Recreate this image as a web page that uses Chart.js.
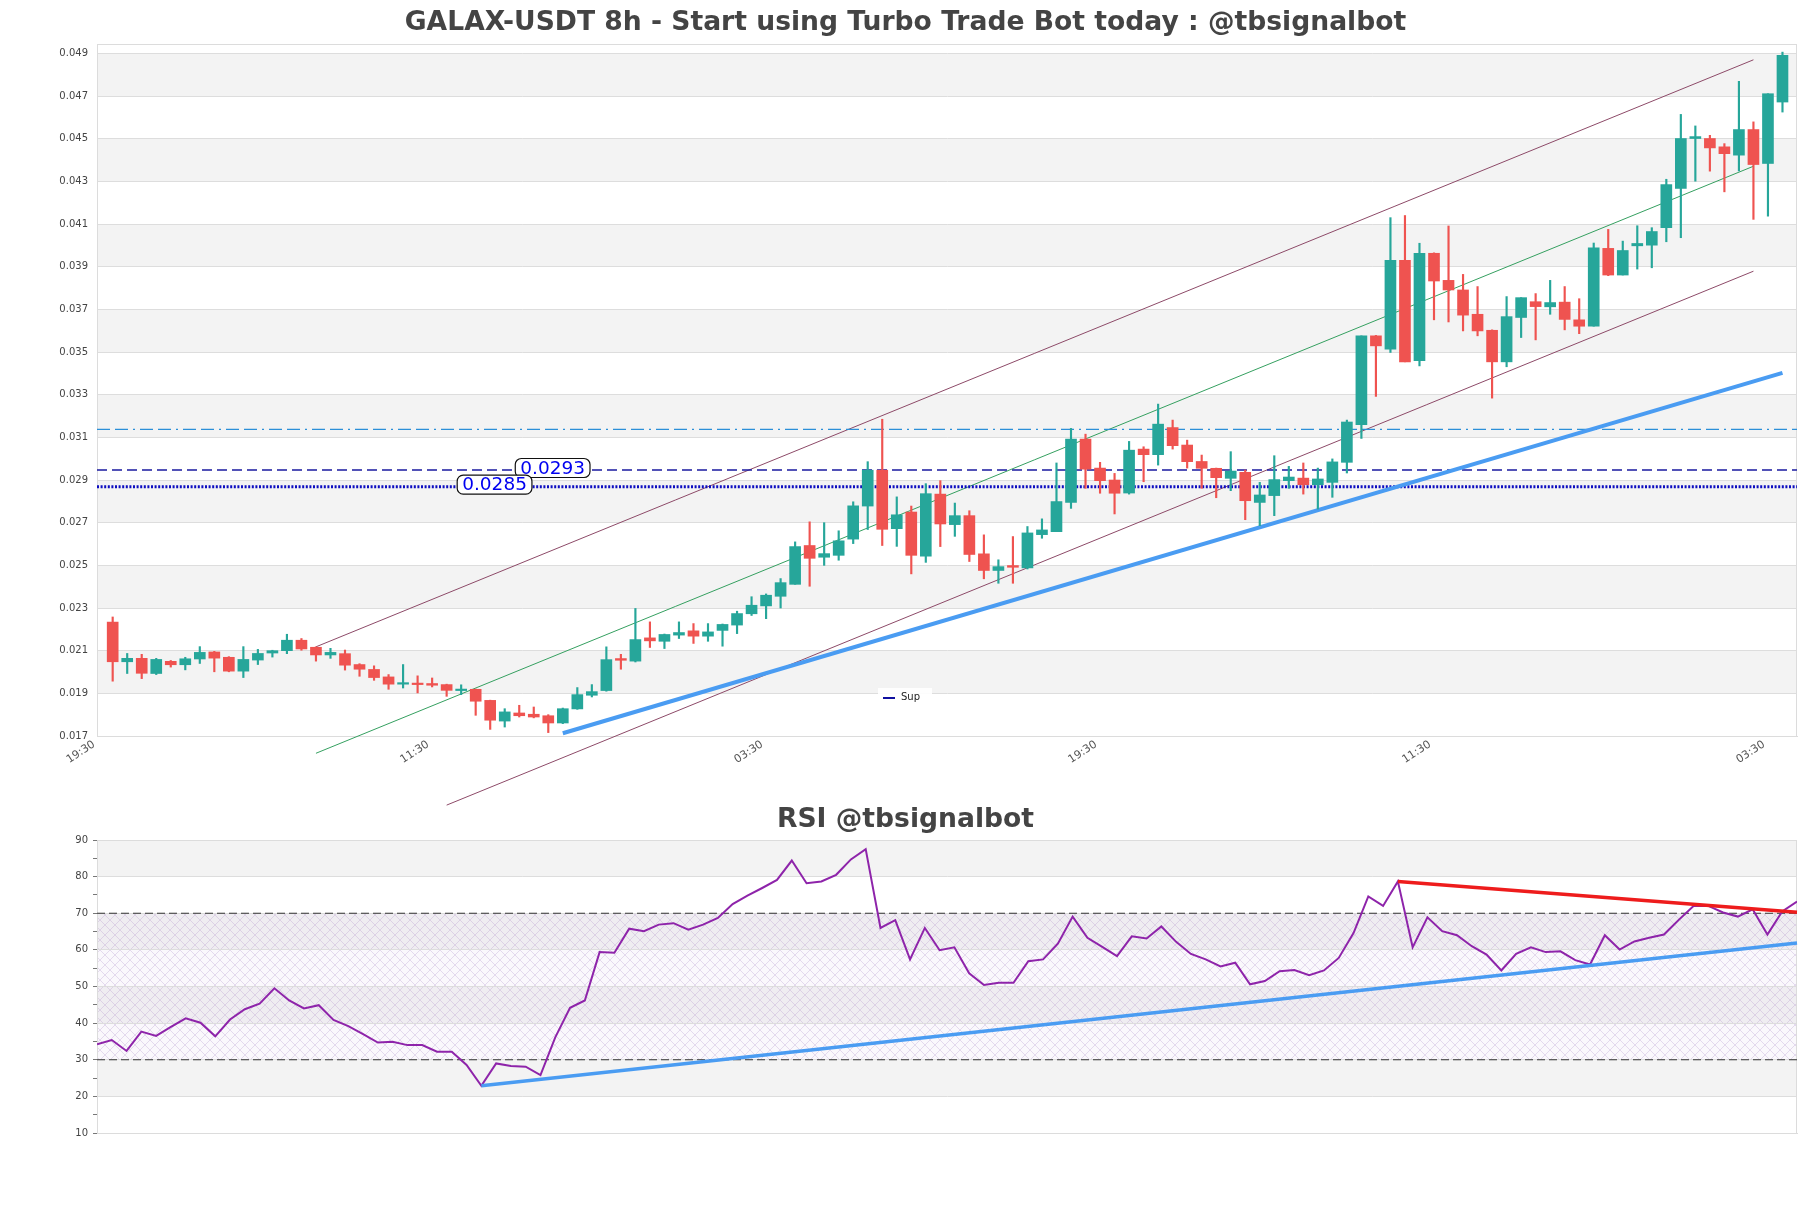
<!DOCTYPE html>
<html>
<head>
<meta charset="utf-8">
<script src="https://cdn.jsdelivr.net/npm/chart.js@4.4.1/dist/chart.umd.min.js"></script>
<style>
  html, body { margin: 0; padding: 0; background: #fff; }
  #wrap { position: relative; width: 1811px; height: 1208px; overflow: hidden; }
  #rsiChart { position: absolute; left: 0; top: 790px; }
  #mainChart { position: absolute; left: 0; top: 0; }
</style>
</head>
<body>
<div id="wrap">
  <canvas id="rsiChart" width="1811" height="418"></canvas>
  <canvas id="mainChart" width="1811" height="820"></canvas>
</div>
<script>
// ---- data (8h candles, 116 bars) ----
const mainTitle = "GALAX-USDT 8h - Start using Turbo Trade Bot today : @tbsignalbot";
const rsiTitle = "RSI @tbsignalbot";

const candleOpen = [
  0.02234,0.02048,0.02064,0.01993,0.0205,0.02034,0.02061,0.02094,0.02069,0.02004,
  0.02056,0.02089,0.021,0.02149,0.02116,0.0208,0.02086,0.02035,0.02012,0.01977,
  0.01943,0.01946,0.01946,0.01941,0.01913,0.01919,0.01867,0.0177,0.01808,0.01802,
  0.01795,0.01761,0.01827,0.01891,0.01913,0.02063,0.02051,0.0216,0.02144,0.02173,
  0.02193,0.02168,0.02195,0.0222,0.02273,0.0231,0.02355,0.02411,0.02593,0.02538,
  0.02547,0.02623,0.02778,0.02946,0.02672,0.0275,0.02543,0.02834,0.02691,0.02733,
  0.02554,0.02476,0.02499,0.02488,0.02644,0.02658,0.02795,0.03092,0.02956,0.029,
  0.02839,0.03045,0.03019,0.03146,0.03064,0.02987,0.02955,0.02908,0.02936,0.02795,
  0.02827,0.02897,0.02909,0.02878,0.02889,0.02983,0.03159,0.03576,0.03513,0.0393,
  0.03459,0.03963,0.03836,0.03791,0.03677,0.03602,0.03454,0.03662,0.03736,0.03712,
  0.03734,0.03651,0.03621,0.03986,0.03861,0.03998,0.04001,0.04083,0.04267,0.04501,
  0.04501,0.04462,0.04423,0.04543,0.04384,0.04672
];
const candleHigh = [
  0.02258,0.02087,0.02083,0.02064,0.02054,0.02069,0.02119,0.02097,0.02072,0.02119,
  0.02106,0.02102,0.02177,0.02157,0.02118,0.02111,0.02103,0.02039,0.02029,0.01988,
  0.02035,0.01982,0.01972,0.01943,0.0194,0.0192,0.01868,0.01828,0.01844,0.01836,
  0.018,0.01831,0.01927,0.01941,0.02118,0.02083,0.02298,0.02235,0.02178,0.02235,
  0.02227,0.02227,0.02225,0.02285,0.02353,0.02366,0.02438,0.0261,0.02704,0.027,
  0.02662,0.02798,0.02986,0.03185,0.02821,0.02778,0.02883,0.02897,0.02792,0.02756,
  0.02643,0.02526,0.02635,0.02682,0.02718,0.0298,0.03142,0.03115,0.02983,0.02931,
  0.03081,0.03056,0.03256,0.03181,0.03087,0.03017,0.02956,0.03033,0.02947,0.02889,
  0.03014,0.02964,0.0298,0.02956,0.02999,0.03181,0.03576,0.03578,0.0413,0.0414,
  0.0401,0.03965,0.04091,0.03864,0.03807,0.03604,0.0376,0.03755,0.03774,0.03836,
  0.03807,0.0375,0.04011,0.04075,0.0402,0.04092,0.04083,0.0431,0.04614,0.0456,
  0.04516,0.04477,0.04769,0.04579,0.04711,0.04906
];
const candleLow = [
  0.01957,0.01993,0.01969,0.01988,0.02023,0.0201,0.0204,0.02001,0.02001,0.01974,
  0.02035,0.0207,0.02086,0.02102,0.02051,0.02064,0.02009,0.0198,0.01961,0.01919,
  0.01925,0.01902,0.0193,0.01886,0.01894,0.01797,0.01731,0.01742,0.01789,0.01785,
  0.01716,0.01758,0.01825,0.01883,0.0191,0.02013,0.02047,0.02115,0.0211,0.02157,
  0.02134,0.02144,0.02121,0.0218,0.02265,0.0225,0.023,0.02411,0.02402,0.025,
  0.02524,0.02602,0.02668,0.02593,0.02589,0.0246,0.02514,0.02588,0.02636,0.02518,
  0.02437,0.02416,0.02416,0.02483,0.02627,0.02658,0.02767,0.02861,0.02838,0.02741,
  0.02834,0.02892,0.0297,0.03045,0.02956,0.02861,0.02817,0.0285,0.02714,0.02686,
  0.02733,0.02861,0.02834,0.02764,0.02819,0.02933,0.03095,0.03292,0.03498,0.03454,
  0.03435,0.03651,0.03641,0.03599,0.03576,0.03284,0.03431,0.03568,0.03557,0.03677,
  0.03604,0.03586,0.03621,0.03858,0.03861,0.03889,0.03895,0.04017,0.04036,0.04301,
  0.04348,0.04251,0.04349,0.04122,0.04137,0.04625
];
const candleClose = [
  0.02048,0.02064,0.01994,0.02059,0.02034,0.02062,0.02092,0.02065,0.02004,0.02059,
  0.02087,0.021,0.02149,0.02108,0.0208,0.02092,0.02032,0.02013,0.01974,0.01943,
  0.0195,0.01941,0.01938,0.01914,0.01916,0.01863,0.01774,0.01813,0.01795,0.01789,
  0.01761,0.01828,0.01894,0.01908,0.02058,0.02055,0.02152,0.02146,0.02176,0.02185,
  0.02168,0.02188,0.02223,0.02274,0.02313,0.0236,0.02419,0.02588,0.02533,0.02555,
  0.02615,0.02779,0.02946,0.02669,0.02737,0.02547,0.02836,0.02694,0.02733,0.02551,
  0.02476,0.02494,0.02491,0.02652,0.02666,0.02799,0.03092,0.02951,0.02897,0.02838,
  0.0304,0.03019,0.03162,0.03061,0.02986,0.02955,0.02911,0.02942,0.02803,0.0283,
  0.02902,0.02914,0.02878,0.02905,0.02985,0.03172,0.03576,0.03529,0.0393,0.03454,
  0.03963,0.03833,0.03791,0.03673,0.03599,0.03454,0.03666,0.03755,0.03713,0.03732,
  0.03653,0.03621,0.03988,0.03861,0.03976,0.04009,0.04065,0.04285,0.04501,0.0451,
  0.04457,0.0443,0.04543,0.04379,0.04711,0.04891
];

const rsiValues = [
  34.2,35.4,32.4,37.7,36.5,39.0,41.3,40.1,36.4,41.0,
  43.8,45.3,49.5,46.2,44.0,44.9,40.9,39.2,37.0,34.7,
  34.9,34.0,34.0,32.2,32.2,28.6,22.9,29.0,28.3,28.1,
  25.8,36.1,44.2,46.2,59.4,59.2,65.8,65.1,66.9,67.3,
  65.5,66.9,68.7,72.5,74.8,76.9,79.1,84.4,78.2,78.7,
  80.5,84.7,87.5,66.0,68.1,57.4,66.0,59.9,60.7,53.6,
  50.4,51.0,51.0,56.9,57.4,61.7,69.1,63.3,60.8,58.3,
  63.7,63.1,66.4,62.2,58.9,57.4,55.5,56.5,50.6,51.5,
  54.2,54.5,53.1,54.4,57.8,64.6,74.6,72.0,78.7,60.7,
  68.9,65.1,64.0,61.0,58.7,54.4,58.9,60.7,59.4,59.6,
  57.2,56.0,64.0,60.1,62.3,63.3,64.2,68.2,72.0,72.0,
  70.2,69.1,71.1,64.2,70.5,73.2
];

// x ticks sit every 23 bars
const xTickPos = [-1, 22, 45, 68, 91, 114];
const xTickLabels = ["19:30", "11:30", "03:30", "19:30", "11:30", "03:30"];
const yTicks = [0.017,0.019,0.021,0.023,0.025,0.027,0.029,0.031,0.033,0.035,0.037,0.039,0.041,0.043,0.045,0.047,0.049];
const rsiTicks = [10,15,20,25,30,35,40,45,50,55,60,65,70,75,80,85,90];

// trend lines, [barIndex, price]
const channelUpper = [[14, 0.02118], [113, 0.0487]];
const channelMid = [[14, 0.01619], [113, 0.04371]];
const channelLower = [[23, 0.01376], [113, 0.03879]];
const supportLine = [[31, 0.01713], [115, 0.03402]];

// horizontal levels: dash-dot, dashed, dotted
const levelValues = [0.03137, 0.02947, 0.02869];
const levelLabelText = ["0.0293", "0.0285"];
const levelLabelX = [30.3, 26.3];

// RSI lines
const rsiSupport = [[26, 22.9], [115, 61.9]];
const rsiResistance = [[88, 78.7], [115, 70.3]];
const rsiGuides = [30, 70];

Chart.defaults.font.family = "'DejaVu Sans', sans-serif";
Chart.defaults.color = "#444";

const toXY = pts => pts.map(p => ({ x: p[0], y: p[1] }));
const candleColors = candleClose.map((c, i) => c >= candleOpen[i] ? "#26a69a" : "#ef5350");

const bandsPlugin = {
  id: "bands",
  beforeDraw(chart, args, opts) {
    const { ctx, chartArea: a, scales: { y } } = chart;
    ctx.save();
    ctx.fillStyle = "#fff";
    ctx.fillRect(a.left, a.top, a.width, a.height);
    ctx.fillStyle = "#f3f3f3";
    opts.bands.forEach(([lo, hi]) => {
      const y1 = y.getPixelForValue(hi), y2 = y.getPixelForValue(lo);
      ctx.fillRect(a.left, y1, a.width, y2 - y1);
    });
    if (opts.hatch) {
      const t = document.createElement("canvas");
      t.width = 10; t.height = 10;
      const g = t.getContext("2d");
      g.strokeStyle = "rgba(180,150,205,0.45)";
      g.lineWidth = 0.7;
      g.beginPath();
      g.moveTo(0, 0); g.lineTo(10, 10);
      g.moveTo(10, 0); g.lineTo(0, 10);
      g.stroke();
      const y1 = y.getPixelForValue(opts.hatch[1]), y2 = y.getPixelForValue(opts.hatch[0]);
      ctx.fillStyle = "rgba(205,185,225,0.10)";
      ctx.fillRect(a.left, y1, a.width, y2 - y1);
      ctx.fillStyle = ctx.createPattern(t, "repeat");
      ctx.fillRect(a.left, y1, a.width, y2 - y1);
    }
    ctx.restore();
  },
  beforeDatasetsDraw(chart) {
    const { ctx, chartArea: a } = chart;
    ctx.save();
    ctx.strokeStyle = "#dcdcdc";
    ctx.lineWidth = 1;
    ctx.strokeRect(a.left + 0.5, a.top + 0.5, a.width - 1, a.height);
    ctx.restore();
  }
};

const levelLabelPlugin = {
  id: "levelLabels",
  afterDatasetsDraw(chart) {
    const { ctx, chartArea: a, scales: { x, y } } = chart;
    ctx.save();
    ctx.font = "18.5px 'DejaVu Sans'";
    ctx.textAlign = "center";
    ctx.textBaseline = "middle";
    levelLabelText.forEach((t, k) => {
      const cx = x.getPixelForValue(levelLabelX[k]);
      const cy = y.getPixelForValue(levelValues[k + 1]) - 2;
      const w = ctx.measureText(t).width + 10, h = 19;
      ctx.beginPath();
      ctx.roundRect(cx - w / 2, cy - h / 2, w, h, 6);
      ctx.fillStyle = "#fff";
      ctx.fill();
      ctx.lineWidth = 1.2;
      ctx.strokeStyle = "#111";
      ctx.stroke();
      ctx.fillStyle = "#0000f0";
      ctx.fillText(t, cx, cy + 1);
    });
    // small legend
    const lx = a.left + 781, ly = a.bottom - 39;
    ctx.fillStyle = "rgba(255,255,255,0.9)";
    ctx.fillRect(lx, ly - 9, 54, 18);
    ctx.strokeStyle = "#1010a0";
    ctx.lineWidth = 2;
    ctx.beginPath();
    ctx.moveTo(lx + 5, ly + 1); ctx.lineTo(lx + 17, ly + 1);
    ctx.stroke();
    ctx.fillStyle = "#222";
    ctx.font = "10px 'DejaVu Sans'";
    ctx.textAlign = "left";
    ctx.fillText("Sup", lx + 23, ly);
    ctx.restore();
  }
};

const lineDs = (pts, color, width, extra) => Object.assign({
  type: "line", data: toXY(pts), borderColor: color, borderWidth: width,
  pointRadius: 0, fill: false, clip: false, order: 5
}, extra || {});

// empty right-hand axis keeps a 14px margin so the titles stay centred on the page
const rightGap = {
  type: "linear", position: "right", display: true,
  grid: { display: false, drawTicks: false }, border: { display: false },
  ticks: { display: false }, afterFit: ax => { ax.width = 14; }
};

const xMin = -1.08, xMax = 116;
const hLine = v => [[xMin, v], [xMax, v]];

new Chart(document.getElementById("mainChart"), {
  type: "bar",
  data: {
    datasets: [
      {
        label: "body",
        data: candleOpen.map((o, i) => ({ x: i, y: [Math.min(o, candleClose[i]), Math.max(o, candleClose[i])] })),
        backgroundColor: candleColors, barThickness: 11, minBarLength: 1.5, grouped: false, order: 1
      },
      {
        label: "wick",
        data: candleLow.map((l, i) => ({ x: i, y: [l, candleHigh[i]] })),
        backgroundColor: candleColors, barThickness: 1.5, grouped: false, order: 2
      },
      lineDs(hLine(levelValues[0]), "#2b8fd8", 1.3, { borderDash: [13, 5, 13, 5, 2, 5] }),
      lineDs(hLine(levelValues[1]), "#1a1aa0", 1.5, { borderDash: [10, 5] }),
      lineDs(hLine(levelValues[2]), "#0d0dc0", 3, { borderDash: [2, 1.6] }),
      lineDs(channelUpper, "#8d4a68", 1),
      lineDs(channelMid, "#35a060", 1),
      lineDs(channelLower, "#8d4a68", 1),
      lineDs(supportLine, "#4a9cf2", 4, { order: 4 })
    ]
  },
  options: {
    responsive: false,
    animation: false,
    layout: { padding: 0 },
    plugins: {
      legend: { display: false },
      tooltip: { enabled: false },
      title: {
        display: true, text: mainTitle, color: "#444",
        font: { size: 26.6, weight: "bold" }, padding: { top: 7, bottom: 5.1 }
      },
      bands: { bands: [[0.019, 0.021], [0.023, 0.025], [0.027, 0.029], [0.031, 0.033], [0.035, 0.037], [0.039, 0.041], [0.043, 0.045], [0.047, 0.049]] }
    },
    scales: {
      x: {
        type: "linear", min: xMin, max: xMax, offset: false,
        grid: { display: false, drawTicks: false, offset: false },
        border: { display: true, color: "#dcdcdc" },
        afterBuildTicks: ax => { ax.ticks = xTickPos.map(v => ({ value: v })); },
        afterFit: ax => { ax.height = 84; },
        ticks: {
          autoSkip: false, minRotation: 33, maxRotation: 33, padding: 2, labelOffset: -4,
          font: { size: 11 }, color: "#555",
          callback: (v, i) => xTickLabels[i]
        }
      },
      y: {
        type: "linear", min: 0.017, max: 0.04944,
        afterBuildTicks: ax => { ax.ticks = yTicks.map(v => ({ value: v })); },
        afterFit: ax => { ax.width = 97; },
        grid: { color: "#dddddd", drawTicks: false },
        border: { display: true, color: "#dcdcdc" },
        ticks: { font: { size: 10 }, color: "#444", padding: 9, callback: v => v.toFixed(3) }
      },
      gap: rightGap
    }
  },
  plugins: [bandsPlugin, levelLabelPlugin]
});

const rsiLast = rsiValues.length - 1;
new Chart(document.getElementById("rsiChart"), {
  type: "line",
  data: {
    datasets: [
      lineDs(rsiSupport, "#4a9cf2", 3.5, { order: 1 }),
      lineDs(rsiResistance, "#ee1c1c", 3.5, { order: 1 }),
      {
        data: rsiValues.map((v, i) => ({ x: i, y: v })),
        borderColor: "#8e24aa", borderWidth: 2, pointRadius: 0, fill: false, order: 2
      },
      lineDs([[0, rsiGuides[0]], [rsiLast, rsiGuides[0]]], "#333", 1.2, { borderDash: [8, 4], order: 3 }),
      lineDs([[0, rsiGuides[1]], [rsiLast, rsiGuides[1]]], "#333", 1.2, { borderDash: [8, 4], order: 3 })
    ]
  },
  options: {
    responsive: false,
    animation: false,
    layout: { padding: 0 },
    plugins: {
      legend: { display: false },
      tooltip: { enabled: false },
      title: {
        display: true, text: rsiTitle, color: "#444",
        font: { size: 26.6, weight: "bold" }, padding: { top: 14.6, bottom: 3.5 }
      },
      bands: { bands: [[20, 30], [40, 50], [60, 70], [80, 90]], hatch: [30, 70] }
    },
    scales: {
      x: {
        type: "linear", min: 0, max: rsiLast,
        grid: { display: false, drawTicks: false },
        border: { display: true, color: "#dcdcdc" },
        ticks: { display: false },
        afterFit: ax => { ax.height = 75; }
      },
      y: {
        type: "linear", min: 10, max: 90,
        afterBuildTicks: ax => { ax.ticks = rsiTicks.map(v => ({ value: v })); },
        afterFit: ax => { ax.width = 97; },
        grid: {
          color: c => (c.tick && c.tick.value % 10 === 0) ? "#dddddd" : "rgba(0,0,0,0)",
          tickColor: "#777", tickLength: 4, drawTicks: true
        },
        border: { display: true, color: "#dcdcdc" },
        ticks: { font: { size: 10 }, color: "#444", padding: 5, callback: v => (v % 10 === 0 ? v : "") }
      },
      gap: rightGap
    }
  },
  plugins: [bandsPlugin]
});
</script>
</body>
</html>
